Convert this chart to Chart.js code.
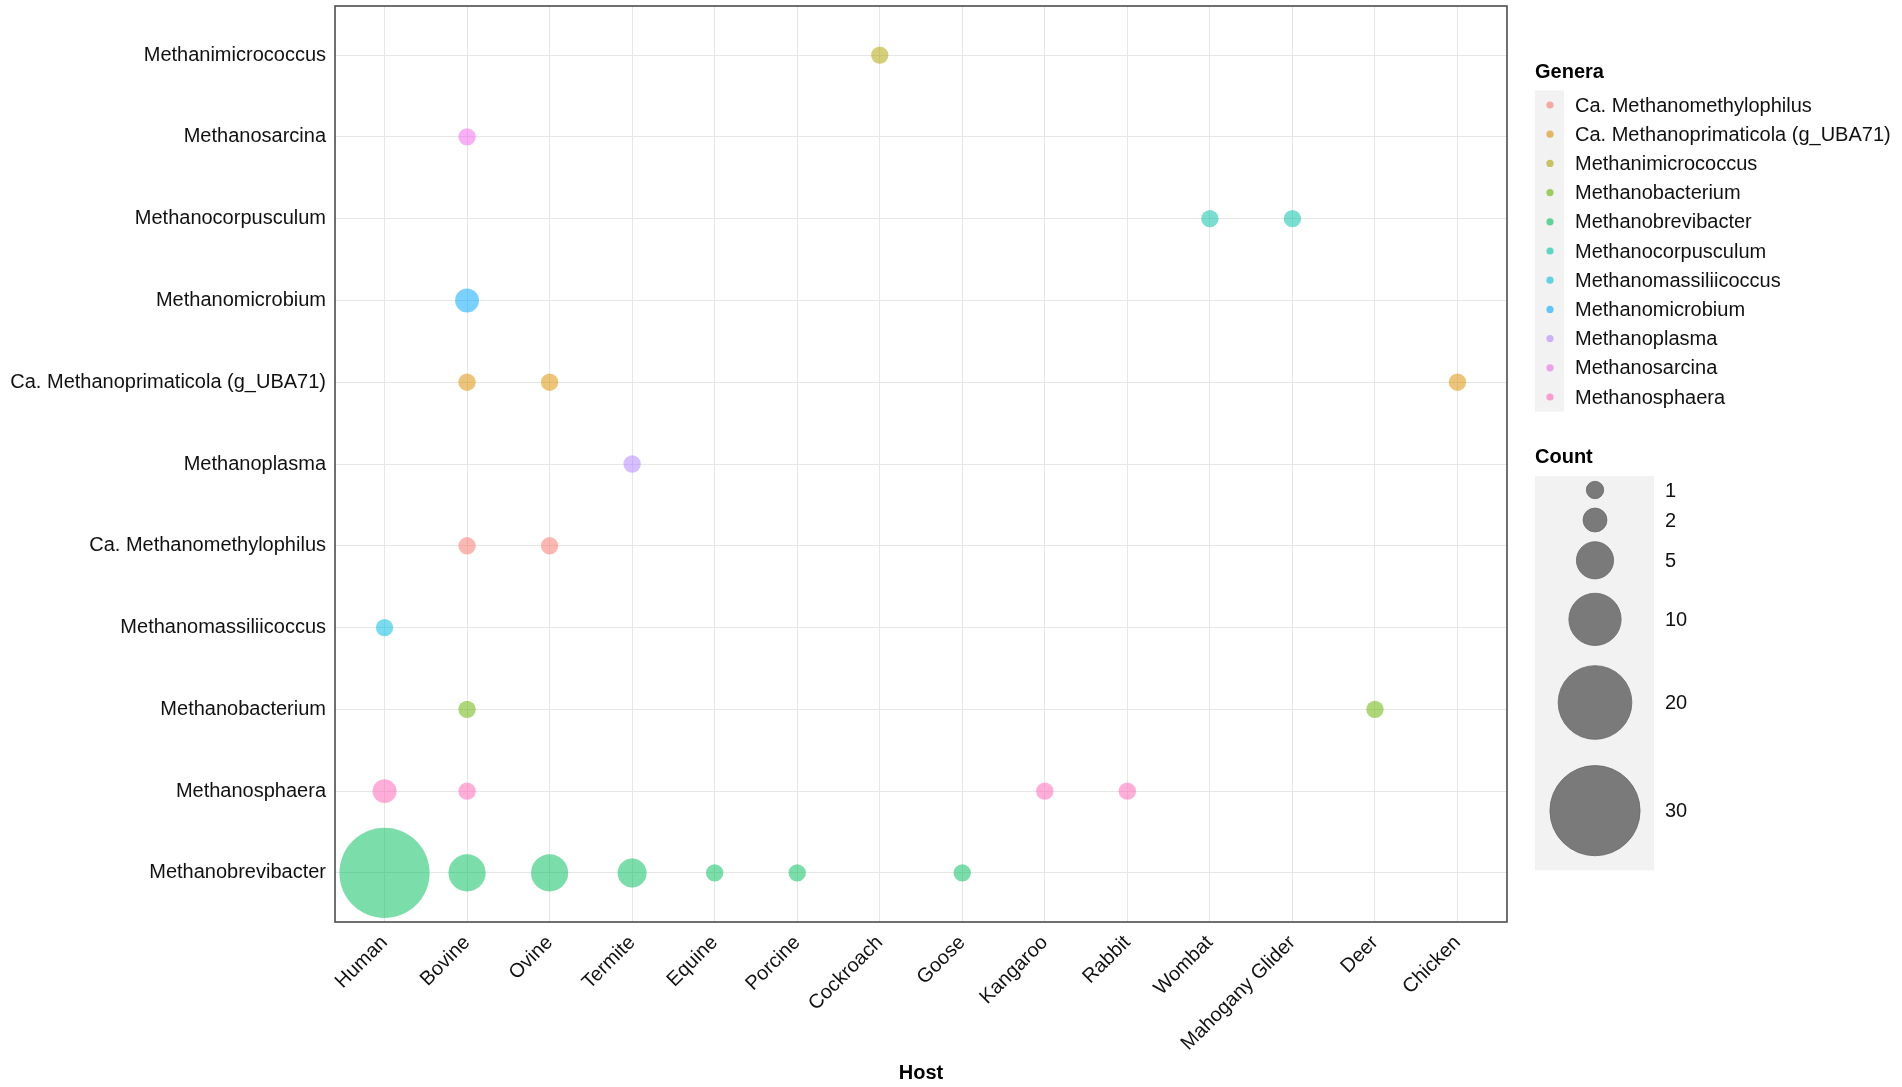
<!DOCTYPE html>
<html lang="en">
<head>
<meta charset="UTF-8" />
<title>Methanogen genera by host</title>
<script src="https://cdn.jsdelivr.net/npm/chart.js"></script>
<style>
  body { margin: 0; background: #fff; }
  #wrap { width: 1902px; height: 1087px; }
</style>
</head>
<body>
<div id="wrap"><canvas id="bubbleChart" width="1902" height="1087"></canvas></div>
<script>
const hosts = ["Human", "Bovine", "Ovine", "Termite", "Equine", "Porcine", "Cockroach", "Goose",
  "Kangaroo", "Rabbit", "Wombat", "Mahogany Glider", "Deer", "Chicken"];

// y axis order, top to bottom
const yGenera = ["Methanimicrococcus", "Methanosarcina", "Methanocorpusculum", "Methanomicrobium",
  "Ca. Methanoprimaticola (g_UBA71)", "Methanoplasma", "Ca. Methanomethylophilus",
  "Methanomassiliicoccus", "Methanobacterium", "Methanosphaera", "Methanobrevibacter"];

// legend order (and colour order)
const genera = ["Ca. Methanomethylophilus", "Ca. Methanoprimaticola (g_UBA71)", "Methanimicrococcus",
  "Methanobacterium", "Methanobrevibacter", "Methanocorpusculum", "Methanomassiliicoccus",
  "Methanomicrobium", "Methanoplasma", "Methanosarcina", "Methanosphaera"];
const generaColors = ["#F8766D", "#DB8E00", "#AEA200", "#64B200", "#00BD5C", "#00C1A7",
  "#00BADE", "#00A6FF", "#B385FF", "#EF67EB", "#FF63B6"];

// one entry per bubble
const recGenus = [
  "Methanimicrococcus", "Methanosarcina", "Methanocorpusculum", "Methanocorpusculum",
  "Methanomicrobium",
  "Ca. Methanoprimaticola (g_UBA71)", "Ca. Methanoprimaticola (g_UBA71)", "Ca. Methanoprimaticola (g_UBA71)",
  "Methanoplasma",
  "Ca. Methanomethylophilus", "Ca. Methanomethylophilus",
  "Methanomassiliicoccus",
  "Methanobacterium", "Methanobacterium",
  "Methanosphaera", "Methanosphaera", "Methanosphaera", "Methanosphaera",
  "Methanobrevibacter", "Methanobrevibacter", "Methanobrevibacter", "Methanobrevibacter",
  "Methanobrevibacter", "Methanobrevibacter", "Methanobrevibacter"];
const recHost = [
  "Cockroach", "Bovine", "Wombat", "Mahogany Glider",
  "Bovine",
  "Bovine", "Ovine", "Chicken",
  "Termite",
  "Bovine", "Ovine",
  "Human",
  "Bovine", "Deer",
  "Human", "Bovine", "Kangaroo", "Rabbit",
  "Human", "Bovine", "Ovine", "Termite", "Equine", "Porcine", "Goose"];
const recCount = [
  1, 1, 1, 1,
  2,
  1, 1, 1,
  1,
  1, 1,
  1,
  1, 1,
  2, 1, 1, 1,
  30, 5, 5, 3, 1, 1, 1];

const countBreaks = [1, 2, 5, 10, 20, 30];

// point area grows linearly with count
function sizeOf(count) {
  return Math.sqrt(8 + 67.5 * count);
}

function withAlpha(hex, a) {
  const n = parseInt(hex.slice(1), 16);
  return `rgba(${(n >> 16) & 255}, ${(n >> 8) & 255}, ${n & 255}, ${a})`;
}

const FONT = "'Liberation Sans', Arial, Helvetica, sans-serif";
Chart.defaults.font.family = FONT;

const datasets = genera.map((g, gi) => {
  const pts = [];
  recGenus.forEach((rg, i) => {
    if (rg === g) {
      pts.push({ x: hosts.indexOf(recHost[i]), y: yGenera.indexOf(rg), r: sizeOf(recCount[i]) });
    }
  });
  return {
    label: g,
    data: pts,
    backgroundColor: withAlpha(generaColors[gi], 0.52),
    borderWidth: 0,
    hoverRadius: 0,
    clip: false,
  };
});

// no extra room around the panel for tick labels
function noPad(s) {
  s.paddingTop = 0;
  s.paddingBottom = 0;
  s.paddingLeft = 0;
  s.paddingRight = 0;
}

const panelAndKeys = {
  id: "panelAndKeys",
  afterDraw(chart) {
    const ctx = chart.ctx;
    const a = chart.chartArea;
    ctx.save();

    // panel border
    ctx.strokeStyle = "#4D4D4D";
    ctx.lineWidth = 1.6;
    ctx.strokeRect(a.left, a.top, a.right - a.left, a.bottom - a.top);

    const lx = a.right + 28;

    // Genera key
    ctx.fillStyle = "#000";
    ctx.font = "bold 20px " + FONT;
    ctx.textBaseline = "middle";
    ctx.textAlign = "left";
    ctx.fillText("Genera", lx, 72);

    const step = 29.2;
    const y0 = 105;
    ctx.fillStyle = "#F2F2F2";
    ctx.fillRect(lx, y0 - step / 2, 29, step * genera.length);
    genera.forEach((g, i) => {
      const y = y0 + i * step;
      ctx.beginPath();
      ctx.arc(lx + 15, y, 3.6, 0, Math.PI * 2);
      ctx.fillStyle = withAlpha(generaColors[i], 0.6);
      ctx.fill();
      ctx.fillStyle = "#111";
      ctx.font = "20px " + FONT;
      ctx.fillText(g, lx + 40, y + 1);
    });

    // Count key
    ctx.fillStyle = "#000";
    ctx.font = "bold 20px " + FONT;
    ctx.fillText("Count", lx, 457);

    const centers = [];
    let cy = 490;
    countBreaks.forEach((c, i) => {
      if (i > 0) {
        const gap = 1.32 * (sizeOf(countBreaks[i - 1]) + sizeOf(c));
        cy += Math.max(gap, 30);
      }
      centers.push(cy);
    });
    const last = countBreaks.length - 1;
    const top = centers[0] - 14;
    const bottom = centers[last] + 1.3 * sizeOf(countBreaks[last]) + 1;
    ctx.fillStyle = "#F2F2F2";
    ctx.fillRect(lx, top, 119, bottom - top);
    countBreaks.forEach((c, i) => {
      ctx.beginPath();
      ctx.arc(lx + 60, centers[i], sizeOf(c), 0, Math.PI * 2);
      ctx.fillStyle = "#7A7A7A";
      ctx.fill();
      ctx.strokeStyle = "#6A6A6A";
      ctx.lineWidth = 0.8;
      ctx.stroke();
      ctx.fillStyle = "#111";
      ctx.font = "20px " + FONT;
      ctx.fillText(String(c), lx + 130, centers[i] + 1);
    });

    ctx.restore();
  },
};

new Chart(document.getElementById("bubbleChart").getContext("2d"), {
  type: "bubble",
  data: { datasets: datasets },
  plugins: [panelAndKeys],
  options: {
    responsive: false,
    animation: false,
    events: [],
    layout: { autoPadding: false, padding: { top: 6, right: 395, left: 0, bottom: 0 } },
    plugins: {
      legend: { display: false },
      tooltip: { enabled: false },
    },
    scales: {
      x: {
        type: "linear",
        min: -0.6,
        max: hosts.length - 0.4,
        afterBuildTicks: (s) => { s.ticks = hosts.map((_, i) => ({ value: i })); },
        afterFit: (s) => { s.height = 165; noPad(s); },
        ticks: {
          autoSkip: false,
          minRotation: 45,
          maxRotation: 45,
          padding: 9,
          color: "#111",
          font: { size: 20 },
          callback: (v) => hosts[v],
        },
        grid: { color: "#E6E6E6", lineWidth: 1, drawTicks: false },
        border: { display: false },
        title: {
          display: true,
          text: "Host",
          color: "#000",
          font: { size: 20, weight: "bold" },
          padding: { top: 0, bottom: 2 },
        },
      },
      y: {
        type: "linear",
        reverse: true,
        min: -0.6,
        max: yGenera.length - 0.4,
        afterBuildTicks: (s) => { s.ticks = yGenera.map((_, i) => ({ value: i })); },
        afterFit: (s) => { s.width = 335; noPad(s); },
        ticks: {
          autoSkip: false,
          padding: 9,
          color: "#111",
          font: { size: 20 },
          callback: (v) => yGenera[v],
        },
        grid: { color: "#E6E6E6", lineWidth: 1, drawTicks: false },
        border: { display: false },
      },
    },
  },
});
</script>
</body>
</html>
